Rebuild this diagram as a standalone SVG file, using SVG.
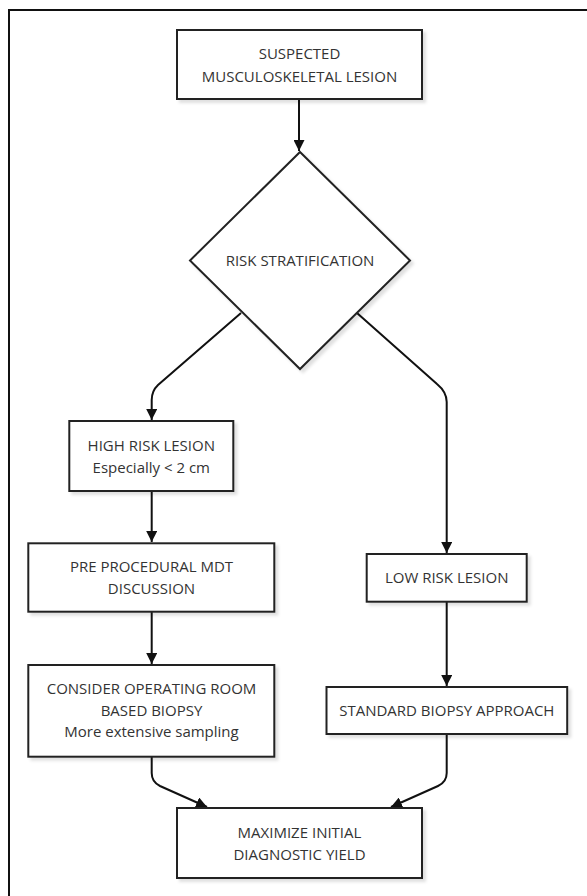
<svg xmlns="http://www.w3.org/2000/svg" width="587" height="896" viewBox="0 0 587 896">
<style>
.box{fill:#fff;stroke:#222;stroke-width:2;filter:url(#sh)}
.t{font-family:"Open Sans","Noto Sans","Liberation Sans",sans-serif;font-size:15px;fill:#333;text-anchor:middle}
.e{fill:none;stroke:#111;stroke-width:2;marker-end:url(#ah)}
</style>
<defs>
<filter id="sh" x="-10%" y="-10%" width="130%" height="130%">
<feDropShadow dx="3" dy="3" stdDeviation="1.5" flood-color="#000" flood-opacity="0.12"/>
</filter>
<marker id="ah" viewBox="0 0 10 10" refX="10" refY="5" markerWidth="11" markerHeight="11" markerUnits="userSpaceOnUse" orient="auto">
<path d="M0,0 L10,5 L0,10 z" fill="#111"/>
</marker>
</defs>
<rect x="0" y="0" width="587" height="896" fill="#fff"/>
<rect x="9" y="10" width="700" height="1000" fill="none" stroke="#111" stroke-width="2"/>
<g id="connectors">
<path class="e" d="M299,99 L299,151"/>
<path class="e" d="M241,313 L158,385 Q151.7,391 151.7,400 L151.7,420"/>
<path class="e" d="M357,313 L437,384 Q446.7,392 446.7,402 L446.7,553"/>
<path class="e" d="M151.7,491 L151.7,542"/>
<path class="e" d="M151.7,612 L151.7,664"/>
<path class="e" d="M446.7,602 L446.7,686"/>
<path class="e" d="M151.7,757 L151.7,773 Q151.7,782 160,786 L207,807"/>
<path class="e" d="M446.7,734 L446.7,773 Q446.7,782 438,786 L391,807"/>
</g>
<g id="n_suspected">
<rect class="box" x="177" y="30" width="245" height="69"/>
<text class="t" x="299.5" y="58.5">SUSPECTED</text>
<text class="t" x="299.5" y="81.5">MUSCULOSKELETAL LESION</text>
</g>
<g id="n_risk">
<polygon class="box" points="300,152 410,260.5 300,369 190,260.5"/>
<text class="t" x="300" y="266">RISK STRATIFICATION</text>
</g>
<g id="n_high">
<rect class="box" x="69.3" y="421" width="164" height="70"/>
<text class="t" x="151.3" y="450.5">HIGH RISK LESION</text>
<text class="t" x="151.3" y="472.5">Especially &lt; 2 cm</text>
</g>
<g id="n_pre">
<rect class="box" x="28.3" y="543.3" width="246" height="68.4"/>
<text class="t" x="151.5" y="572">PRE PROCEDURAL MDT</text>
<text class="t" x="151.5" y="594">DISCUSSION</text>
</g>
<g id="n_consider">
<rect class="box" x="28.3" y="665" width="246" height="91.7"/>
<text class="t" x="151.5" y="693.8">CONSIDER OPERATING ROOM</text>
<text class="t" x="151.5" y="715.5">BASED BIOPSY</text>
<text class="t" x="151.5" y="737.2">More extensive sampling</text>
</g>
<g id="n_low">
<rect class="box" x="366.7" y="554" width="160" height="47.7"/>
<text class="t" x="446.7" y="583">LOW RISK LESION</text>
</g>
<g id="n_standard">
<rect class="box" x="326.5" y="687" width="240.7" height="47"/>
<text class="t" x="446.8" y="715.5">STANDARD BIOPSY APPROACH</text>
</g>
<g id="n_max">
<rect class="box" x="177" y="808" width="245" height="70"/>
<text class="t" x="299.5" y="837.5">MAXIMIZE INITIAL</text>
<text class="t" x="299.5" y="859.5">DIAGNOSTIC YIELD</text>
</g>
</svg>
